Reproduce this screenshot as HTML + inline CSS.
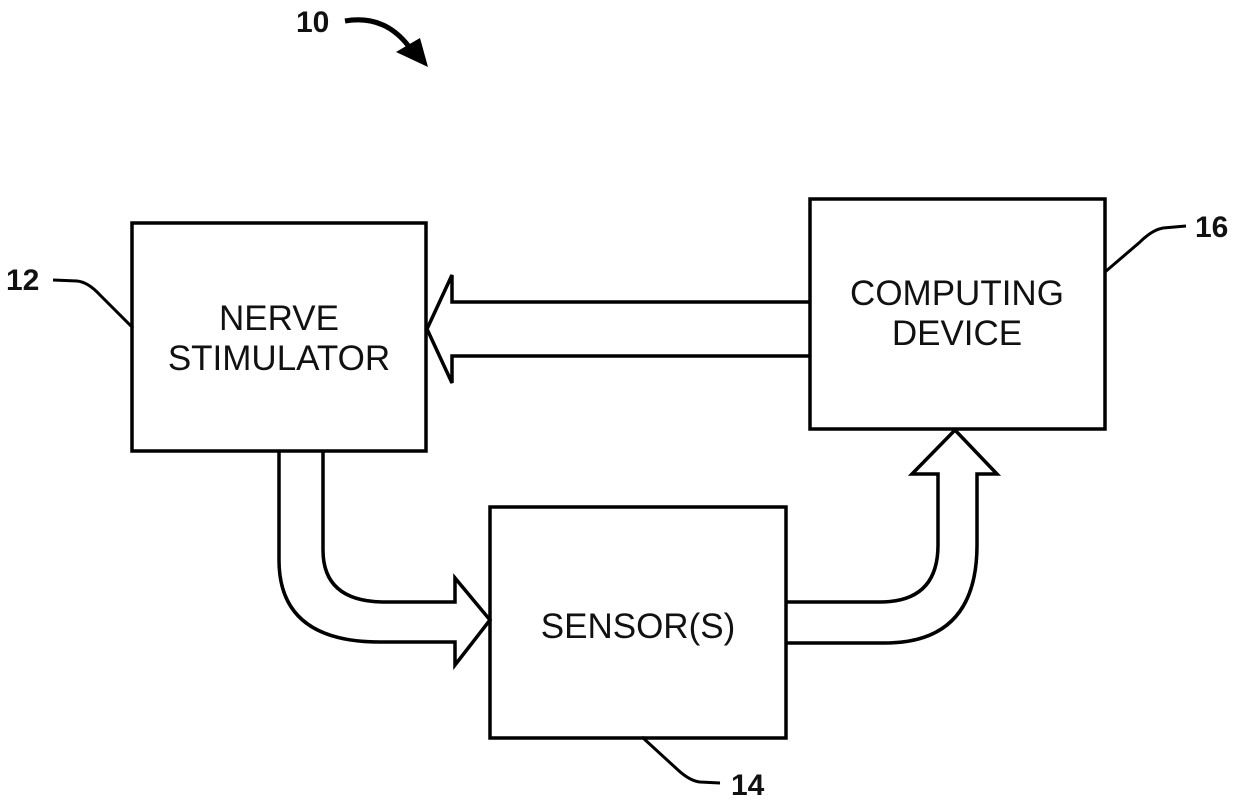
<!DOCTYPE html>
<html><head><style>
html,body{margin:0;padding:0;background:#fff;}
svg{display:block;}
text{font-family:"Liberation Sans",Arial,sans-serif;fill:#111;}
</style></head><body>
<svg width="1239" height="801" viewBox="0 0 1239 801" xmlns="http://www.w3.org/2000/svg">
<g fill="none" stroke="#000" stroke-width="3.5">
<rect x="132" y="223" width="294" height="228"/>
<rect x="810" y="199" width="295" height="230"/>
<rect x="490" y="507" width="296" height="231"/>
<path d="M810,302 L452,302 L452,275 L427,329 L452,383 L452,356 L810,356"/>
<path d="M279,451 L279,560 Q279,642 380,642 L455,642 L455,665 L490,620 L455,578 L455,602 L385,602 Q323,602 323,550 L323,451"/>
<path d="M786,602 L880,602 Q938,602 938,545 L938,474 L912,474 L955,430 L997,474 L977,474 L977,545 Q977,643 885,643 L786,643"/>
<path d="M53,280 L77,281 Q88,282 100,295 L133,328" stroke-width="3"/>
<path d="M1186,226 L1163,228 Q1152,230 1140,242 L1105,272" stroke-width="3"/>
<path d="M720,783 L700,782 Q690,781 678,770 L642,737" stroke-width="3"/>
<path d="M345,21 Q385,14 410,48" stroke-width="5"/>
</g>
<polygon points="396,52 420,38 428,67" fill="#000"/>
<text x="279" y="330" font-size="35" text-anchor="middle">NERVE</text>
<text x="279" y="370" font-size="35" text-anchor="middle">STIMULATOR</text>
<text x="957" y="305" font-size="35" text-anchor="middle">COMPUTING</text>
<text x="957" y="345" font-size="35" text-anchor="middle">DEVICE</text>
<text x="638" y="638" font-size="35" text-anchor="middle">SENSOR(S)</text>
<text x="296" y="32" font-size="30" font-weight="bold">10</text>
<text x="6" y="290" font-size="30" font-weight="bold">12</text>
<text x="1195" y="237" font-size="30" font-weight="bold">16</text>
<text x="731" y="795" font-size="30" font-weight="bold">14</text>
</svg>
</body></html>
